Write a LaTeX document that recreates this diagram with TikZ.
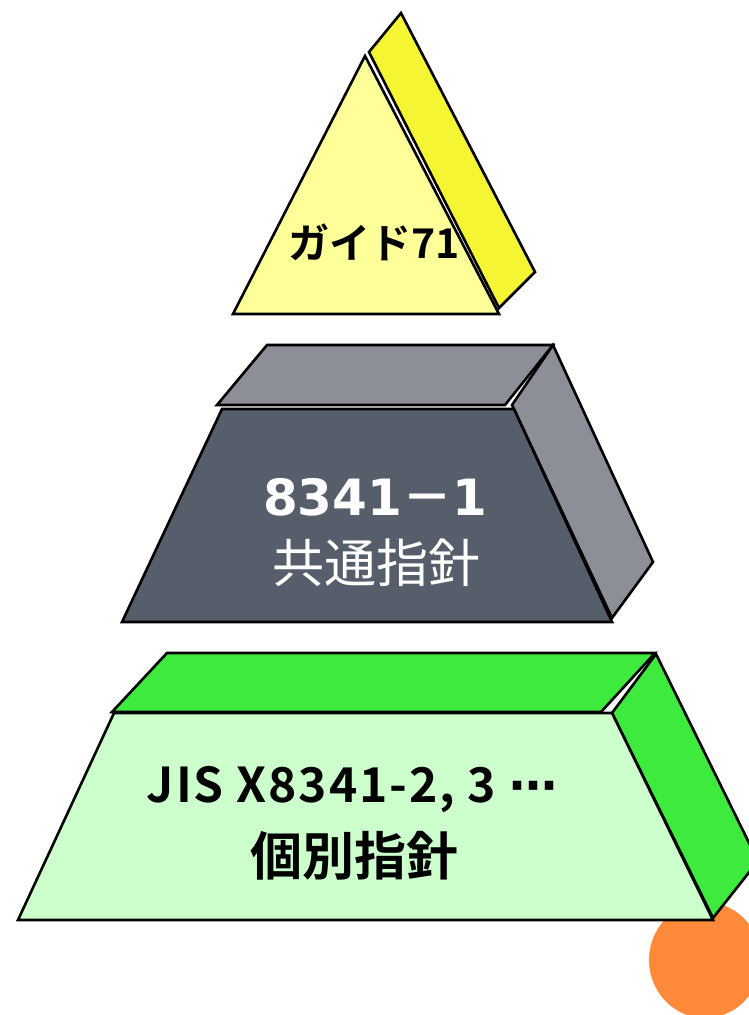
\documentclass[tikz,border=0pt]{standalone}
\usepackage{fontspec}
\newfontfamily\jp{Noto Sans CJK JP}
\newfontfamily\jpb{Noto Sans CJK JP Bold}
\newfontfamily\jpbs{Noto Sans CJK JP Bold}[LetterSpace=4]
\newfontfamily\dvb{DejaVu Sans Bold}
\definecolor{ylwfront}{HTML}{FFFF99}
\definecolor{ylwback}{HTML}{F5F533}
\definecolor{slate}{HTML}{565E6B}
\definecolor{slatestrip}{HTML}{8C8F98}
\definecolor{grnfront}{HTML}{CCFFCC}
\definecolor{grnstrip}{HTML}{3EEA3E}
\definecolor{orangeball}{HTML}{FF8A3A}
\tikzset{
  face/.style={draw=black, line width=2.6pt, line join=miter},
}
\begin{document}
\begin{tikzpicture}[x=1pt,y=-1pt]
\useasboundingbox (0,0) rectangle (748,1015);
% orange ball
\fill[orangeball] (705,960) ellipse [x radius=56, y radius=58];
% top triangle
\draw[face, fill=ylwback] (369,52) -- (401,13) -- (535,272) -- (499,308) -- cycle;
\draw[face, fill=ylwfront] (365,56) -- (499,314) -- (233,314) -- cycle;
\node[font=\jpb\fontsize{41}{41}\selectfont] (t1) at (374,242) {ガイド71};
% middle trapezoid
\draw[face, fill=slatestrip] (267,345) -- (553,345) -- (505,405) -- (217,405) -- cycle;
\draw[face, fill=slatestrip] (553,345) -- (653,562) -- (612,618) -- (512,405) -- cycle;
\draw[face, fill=slate] (222,409) -- (514,409) -- (612,622) -- (122,622) -- cycle;
\node[text=white, font=\fontsize{50}{50}\selectfont] (t2) at (375,497) {{\dvb 8341}{\jpb －}{\dvb 1}};
\node[text=white, font=\jp\fontsize{52}{52}\selectfont] (t3) at (376,563) {共通指針};
% bottom trapezoid
\draw[face, fill=grnstrip] (167,653) -- (655,653) -- (601,712) -- (112,712) -- cycle;
\draw[face, fill=grnstrip] (656,654) -- (758,861) -- (713,918) -- (612,713) -- cycle;
\draw[face, fill=grnfront] (114,713) -- (612,713) -- (713,920) -- (18,920) -- cycle;
\node[font=\jpbs\fontsize{48}{48}\selectfont] (t4) at (352,790) {JIS X8341-2, 3 {\dvb ⋯}};
\node[font=\jpb\fontsize{52}{52}\selectfont] (t5) at (354,856) {個別指針};
\end{tikzpicture}
\end{document}
